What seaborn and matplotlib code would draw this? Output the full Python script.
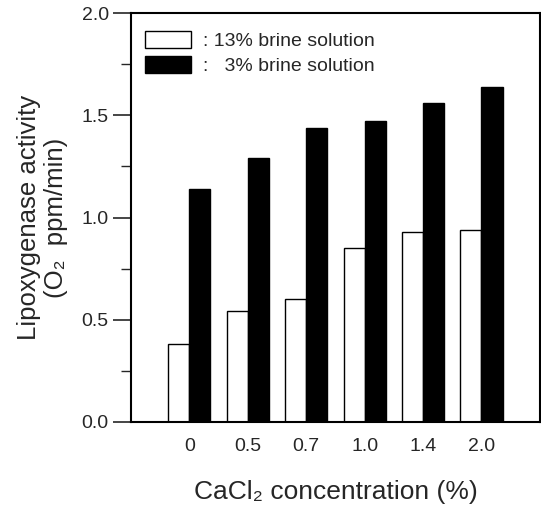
import matplotlib
matplotlib.use('Agg')
import matplotlib.pyplot as plt
import seaborn as sns
import pandas as pd

concentrations = ['0', '0.5', '0.7', '1.0', '1.4', '2.0']
brine_13 = [0.38, 0.54, 0.60, 0.85, 0.93, 0.94]
brine_3 = [1.14, 1.29, 1.44, 1.47, 1.56, 1.64]
series_names = ['13%', '3%']
legend_labels = [': 13% brine solution', ':   3% brine solution']

df = pd.DataFrame({
    'conc': concentrations * 2,
    'activity': brine_13 + brine_3,
    'brine': [series_names[0]] * 6 + [series_names[1]] * 6,
})

sns.set_style('ticks')
plt.rcParams['font.family'] = ['Liberation Sans', 'DejaVu Sans']

fig = plt.figure(figsize=(5.41, 5.07), dpi=100)
ax = fig.add_axes([0.242, 0.168, 0.756, 0.806])

sns.barplot(data=df, x='conc', y='activity', hue='brine', order=concentrations,
            hue_order=series_names, palette={'13%': 'white', '3%': 'black'},
            edgecolor='black', linewidth=1.0, width=0.72, ax=ax)

ax.set_xlim(-1.0, 6.0)
ax.set_ylim(0, 2.0)
ax.set_yticks([0.0, 0.5, 1.0, 1.5, 2.0])
ax.set_yticklabels(['0.0', '0.5', '1.0', '1.5', '2.0'])
ax.set_yticks([0.25, 0.75, 1.25, 1.75], minor=True)
ax.tick_params(axis='y', which='major', length=13, width=1.2, labelsize=14, direction='out', pad=3)
ax.tick_params(axis='y', which='minor', length=7, width=1.0, direction='out')
ax.tick_params(axis='x', length=0, labelsize=14, pad=12)

for s in ax.spines.values():
    s.set_visible(True)
    s.set_linewidth(1.5)
    s.set_color('black')

ax.set_xlabel('CaCl\u2082 concentration (%)', fontsize=19, labelpad=18)
ax.set_ylabel('Lipoxygenase activity\n(O\u2082  ppm/min)', fontsize=18.5, labelpad=10,
              linespacing=1.15)

handles, _ = ax.get_legend_handles_labels()
ax.legend(handles, legend_labels, loc='upper left', frameon=False, fontsize=14,
          handlelength=2.4, handleheight=0.95, handletextpad=0.6,
          labelspacing=0.3, borderaxespad=0.3, bbox_to_anchor=(0.0, 0.99))

fig.savefig('out.png', dpi=100)
